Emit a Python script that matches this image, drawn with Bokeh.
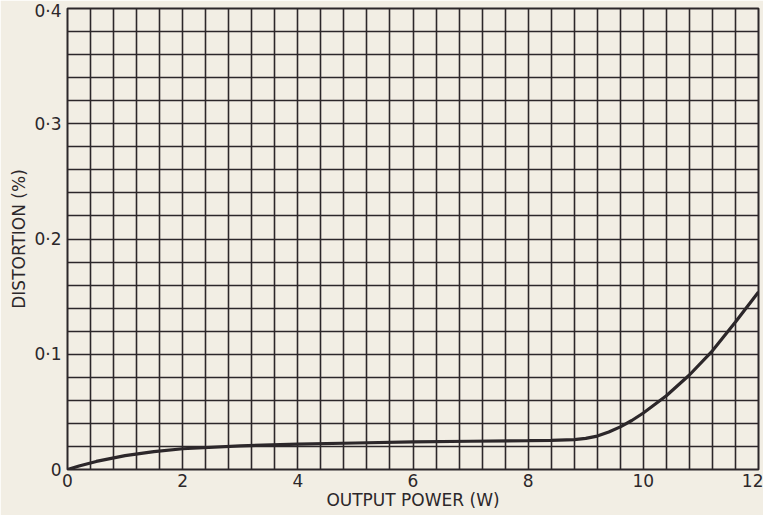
from bokeh.plotting import figure
from bokeh.models import FixedTicker, Range1d
from bokeh.embed import file_html
from bokeh.resources import INLINE

# Data
power_w = [0, 0.2, 0.5, 1.0, 1.5, 2.0, 3.0, 4.0, 5.0, 6.0, 7.0, 8.0, 8.4, 8.8, 9.0, 9.2, 9.4, 9.6, 9.8, 10.0, 10.4, 10.8, 11.2, 11.6, 12.0]
distortion_pct = [0.0, 0.003, 0.007, 0.012, 0.0155, 0.018, 0.0205, 0.022, 0.023, 0.024, 0.0245, 0.025, 0.0253, 0.026, 0.027, 0.029, 0.0325, 0.037, 0.0425, 0.049, 0.064, 0.082, 0.103, 0.128, 0.154]

x_ticks = [0, 2, 4, 6, 8, 10, 12]
y_ticks = [0, 0.1, 0.2, 0.3, 0.4]
y_tick_labels = ["0", "0·1", "0·2", "0·3", "0·4"]
x_grid = [i * 0.4 for i in range(31)]
y_grid = [i * 0.02 for i in range(21)]

BG = "#f2eee4"
INK = "#2c272a"

p = figure(width=763, height=515, x_range=Range1d(0, 12), y_range=Range1d(0, 0.4),
           output_backend="svg", toolbar_location=None,
           min_border_left=67, min_border_right=5, min_border_top=8, min_border_bottom=46)

p.background_fill_color = BG
p.border_fill_color = BG
p.outline_line_color = INK
p.outline_line_width = 2

p.xgrid.ticker = FixedTicker(ticks=x_grid)
p.ygrid.ticker = FixedTicker(ticks=y_grid)
for g in (p.xgrid, p.ygrid):
    g.grid_line_color = INK
    g.grid_line_width = 1.6
    g.grid_line_alpha = 1.0

p.xaxis.ticker = FixedTicker(ticks=x_ticks)
p.yaxis.ticker = FixedTicker(ticks=y_ticks)
p.yaxis.major_label_overrides = {t: l for t, l in zip(y_ticks, y_tick_labels)}

for ax in (p.xaxis, p.yaxis):
    ax.axis_line_color = None
    ax.major_tick_line_color = None
    ax.minor_tick_line_color = None
    ax.major_tick_out = 0
    ax.major_tick_in = 0
    ax.major_label_text_font = "DejaVu Sans"
    ax.major_label_text_font_size = "17px"
    ax.major_label_text_color = INK
    ax.axis_label_text_font = "DejaVu Sans"
    ax.axis_label_text_font_size = "17px"
    ax.axis_label_text_font_style = "normal"
    ax.axis_label_text_color = INK

p.xaxis.axis_label = "OUTPUT POWER (W)"
p.yaxis.axis_label = "DISTORTION (%)"
p.xaxis.major_label_standoff = 4
p.yaxis.major_label_standoff = 6
p.xaxis.axis_label_standoff = 0
p.yaxis.axis_label_standoff = 2

p.line(power_w, distortion_pct, line_color=INK, line_width=3.2)

open("out.html", "w").write(file_html(p, INLINE))
